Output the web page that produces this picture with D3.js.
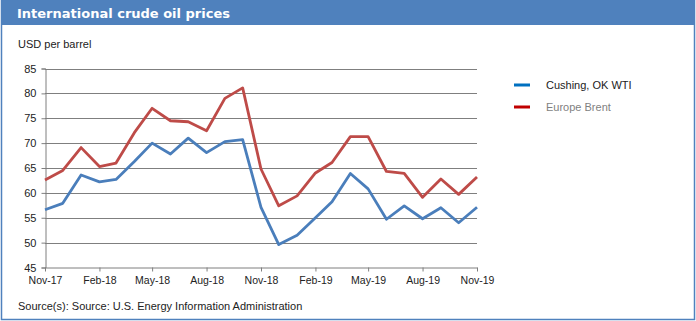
<!DOCTYPE html>
<html>
<head>
<meta charset="utf-8">
<script src="https://cdn.jsdelivr.net/npm/d3@7"></script>
<style>
  body { margin: 0; background: #fff; }
  svg { display: block; font-family: "Liberation Sans", Arial, sans-serif; }
</style>
</head>
<body>
<svg id="chart" width="696" height="321"></svg>
<script>
// Monthly averages, Nov-17 .. Nov-19
const months = ["2017-11","2017-12","2018-01","2018-02","2018-03","2018-04","2018-05","2018-06","2018-07","2018-08","2018-09","2018-10",
  "2018-11","2018-12","2019-01","2019-02","2019-03","2019-04","2019-05","2019-06","2019-07","2019-08","2019-09","2019-10","2019-11"];
const wti   = [56.6, 57.9, 63.6, 62.2, 62.7, 66.3, 70.0, 67.8, 71.0, 68.1, 70.3, 70.7,
  57.1, 49.6, 51.5, 55.0, 58.2, 63.9, 60.8, 54.7, 57.4, 54.8, 57.0, 54.0, 57.1];
const brent = [62.6, 64.5, 69.1, 65.3, 66.0, 72.1, 77.0, 74.5, 74.3, 72.5, 79.0, 81.1,
  64.8, 57.4, 59.4, 64.0, 66.1, 71.3, 71.3, 64.3, 63.9, 59.1, 62.8, 59.7, 63.2];
const xTicks = ["2017-11","2018-02","2018-05","2018-08","2018-11","2019-02","2019-05","2019-08","2019-11"];
const yTicks = [45, 50, 55, 60, 65, 70, 75, 80, 85];
const seriesNames = ["Cushing, OK WTI", "Europe Brent"];

const parse = d3.timeParse("%Y-%m");
const fmt = d3.timeFormat("%b-%y");

const svg = d3.select("#chart");

// frame + header
svg.append("rect").attr("x", 1.5).attr("y", 0.5).attr("width", 693).attr("height", 319)
  .attr("fill", "#fff").attr("stroke", "#4f81bd").attr("stroke-width", 1.5);
svg.append("rect").attr("x", 1).attr("y", 0).attr("width", 694).attr("height", 25).attr("fill", "#4f81bd");
svg.append("text").attr("x", 17).attr("y", 18).attr("fill", "#fff")
  .attr("font-family", "'DejaVu Sans', Verdana, sans-serif")
  .attr("font-weight", "bold").attr("font-size", 13)
  .text("International crude oil prices");

svg.append("text").attr("x", 18).attr("y", 48).attr("font-size", 11).attr("fill", "#222")
  .text("USD per barrel");

const x = d3.scaleTime().domain([parse(months[0]), parse(months[months.length - 1])]).range([45, 477]);
const y = d3.scaleLinear().domain([45, 85]).range([267.5, 68.5]);

// gridlines
svg.append("g").selectAll("line").data(yTicks.slice(1)).join("line")
  .attr("x1", 45).attr("x2", 477)
  .attr("y1", d => Math.round(y(d)) + 0.5).attr("y2", d => Math.round(y(d)) + 0.5)
  .attr("stroke", "#7f7f7f").attr("stroke-width", 1);

// y axis
const yAxis = svg.append("g").attr("transform", "translate(45.5,0)")
  .call(d3.axisLeft(y).tickValues(yTicks).tickSize(4).tickPadding(5));
yAxis.select(".domain").attr("stroke", "#7f7f7f");
yAxis.selectAll(".tick line").attr("stroke", "#7f7f7f");
yAxis.selectAll("text").attr("font-size", 11).attr("fill", "#222").attr("font-family", "'Liberation Sans', Arial, sans-serif");

// x axis
const xAxis = svg.append("g").attr("transform", "translate(0,267.5)")
  .call(d3.axisBottom(x).tickValues(xTicks.map(parse)).tickFormat(fmt).tickSize(4).tickSizeOuter(0).tickPadding(5));
xAxis.select(".domain").attr("stroke", "#7f7f7f");
xAxis.selectAll(".tick line").attr("stroke", "#7f7f7f");
xAxis.selectAll("text").attr("font-size", 10.5).attr("fill", "#222").attr("font-family", "'Liberation Sans', Arial, sans-serif");

// lines
const line = d3.line().x((d, i) => x(parse(months[i]))).y(d => y(d));
svg.append("path").datum(brent).attr("d", line).attr("fill", "none")
  .attr("stroke", "#be4b48").attr("stroke-width", 2.8).attr("stroke-linejoin", "round");
svg.append("path").datum(wti).attr("d", line).attr("fill", "none")
  .attr("stroke", "#4a7ebb").attr("stroke-width", 2.8).attr("stroke-linejoin", "round");

// legend
const legColors = ["#0070c0", "#c00000"];
const legText = ["#222", "#7f7f7f"];
const leg = svg.append("g").selectAll("g").data(seriesNames).join("g")
  .attr("transform", (d, i) => `translate(514,${85 + i * 22})`);
leg.append("line").attr("x1", 0).attr("x2", 16).attr("stroke", (d, i) => legColors[i]).attr("stroke-width", 3);
leg.append("text").attr("x", 32).attr("y", 4).attr("font-size", 11)
  .attr("fill", (d, i) => legText[i]).text(d => d);

// source
svg.append("text").attr("x", 18).attr("y", 310).attr("font-size", 11).attr("fill", "#222")
  .text("Source(s): Source: U.S. Energy Information Administration");
</script>
</body>
</html>
